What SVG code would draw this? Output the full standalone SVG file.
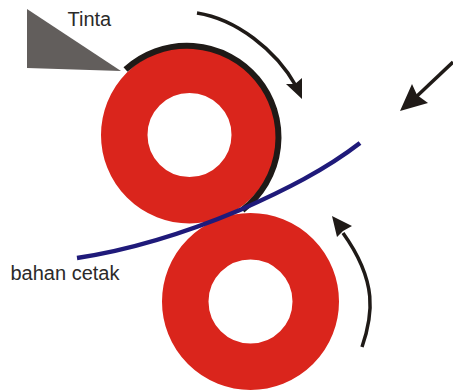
<svg xmlns="http://www.w3.org/2000/svg" width="453" height="390" viewBox="0 0 453 390">
<style>
.roll{fill:none;stroke:#da251c;stroke-width:46.5}
.lbl{font-family:"Liberation Sans",Arial,sans-serif;font-size:20px;fill:#2b2a29}
.ln{fill:none;stroke:#1f1a17;stroke-width:3.5}
.hd{fill:#1f1a17}
</style>
<rect width="453" height="390" fill="#fff"/>
<g id="roller-top"><circle class="roll" cx="189.5" cy="135" r="65.25"/></g>
<g id="roller-bottom"><circle class="roll" cx="250.5" cy="301.500" r="65.25"/></g>
<g id="ink-layer"><path d="M125 69.500 A91.500 91.500 0 1 1 242 210" transform="translate(0.500 0)" fill="none" stroke="#1f1a17" stroke-width="6"/></g>
<g id="ink-blade"><polygon points="27,9 121,71 27,68" fill="#625e5c"/></g>
<g id="label-tinta"><text class="lbl" x="67.500" y="26">Tinta</text></g>
<g id="label-bahan"><text class="lbl" x="10.500" y="280">bahan cetak</text></g>
<g id="connectors">
<path d="M77 258 C130 250 190 231 240 210 C285 190 325 170 360 143" fill="none" stroke="#1f1a7a" stroke-width="4.500"/>
<path class="ln" d="M197 13 C236 19 276 50 296 86"/>
<polygon class="hd" points="302,99 286,84 295,84 302,78"/>
<path class="ln" d="M453 62 L416 97"/>
<polygon class="hd" points="400,111 412,84 417,95 428,103"/>
<path class="ln" d="M362 347 C373 315 378 282 343 233"/>
<polygon class="hd" points="332,216 352,226 343,231 337,237"/>
</g>
</svg>
